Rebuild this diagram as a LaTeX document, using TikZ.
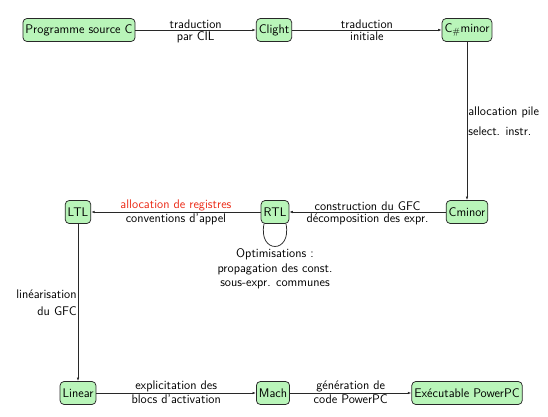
\documentclass[tikz,border=0pt]{standalone}
\usetikzlibrary{arrows.meta,calc}
\definecolor{boxfill}{RGB}{185,245,185}
\definecolor{boxdraw}{RGB}{40,40,40}
\definecolor{labred}{RGB}{235,40,20}
\begin{document}
\begin{tikzpicture}[x=1pt,y=-1pt,
  font=\sffamily\fontsize{12.5}{14.5}\selectfont,
  stage/.style={draw=boxdraw,fill=boxfill,rounded corners=4pt,minimum height=23pt,inner xsep=2.5pt,inner ysep=2pt,line width=0.75pt},
  conn/.style={-{Latex[length=3.5pt,width=2.5pt]},line width=0.75pt,draw=boxdraw},
  lab/.style={inner sep=1pt,align=center}]
\useasboundingbox (0,0) rectangle (548,417);
\node[stage] (src) at (79,30) {Programme source C};
\node[stage] (clight) at (274,30) {Clight};
\node[stage] (csharp) at (467,30) {C$_{\#}$minor};
\node[stage] (cminor) at (467,212) {Cminor};
\node[stage] (rtl) at (275,212) {RTL};
\node[stage] (ltl) at (78,212) {LTL};
\node[stage] (linear) at (78,393) {Linear};
\node[stage] (mach) at (273,393) {Mach};
\node[stage] (exe) at (467,393) {Exécutable PowerPC};

\draw[conn] (src) -- node[lab,above] {traduction} node[lab,below] {par CIL} (clight);
\draw[conn] (clight) -- node[lab,above] {traduction} node[lab,below] {initiale} (csharp);
\draw[conn] (csharp) -- node[lab,right,align=left,pos=0.5] {allocation pile\\[5pt]select. instr.} (cminor);
\draw[conn] (cminor) -- node[lab,above] {construction du GFC} node[lab,below] {décomposition des expr.} (rtl);
\draw[conn] (rtl) -- node[lab,above,text=labred] {allocation de registres} node[lab,below] {conventions d'appel} (ltl);
\coordinate (loopa) at ($(rtl.south)+(-11,0)$);
\coordinate (loopb) at ($(rtl.south)+(11,0)$);
\draw[line width=0.75pt,draw=boxdraw] (loopa) .. controls (258,254) and (292,254) .. (loopb);
\node[lab,align=center] (opt) at (275,269) {Optimisations :\\propagation des const.\\sous-expr. communes};
\draw[conn] (ltl) -- node[lab,left,align=right,pos=0.5] {linéarisation\\[3pt]du GFC} (linear);
\draw[conn] (linear) -- node[lab,above] {explicitation des} node[lab,below] {blocs d'activation} (mach);
\draw[conn] (mach) -- node[lab,above] {génération de} node[lab,below] {code PowerPC} (exe);
\end{tikzpicture}
\end{document}
